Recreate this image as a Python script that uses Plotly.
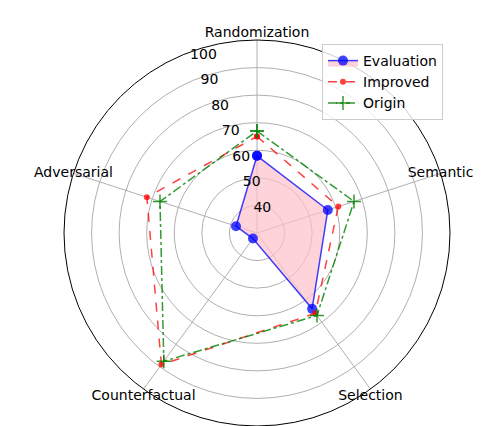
import plotly.graph_objects as go

categories = ["Randomization", "Semantic", "Selection", "Counterfactual", "Adversarial"]
evaluation = [58, 57, 64, 32.5, 38]
improved = [65, 61, 66, 89, 72]
origin = [67, 67, 67, 87.5, 67]
radial_ticks = [40, 50, 60, 70, 80, 90, 100]

R_MIN, R_MAX = 30, 100
# where each category name sits relative to its spoke end on the outer circle
label_positions = ["top center", "middle center", "bottom center", "bottom center", "middle center"]

# the page body has an 8px margin, so the figure is drawn 8px in from the window corner
W, H = 488, 418


def closed(vals):
    return list(vals) + [vals[0]]


theta = closed(categories)

fig = go.Figure()
fig.add_trace(go.Scatterpolar(
    r=closed(evaluation), theta=theta, name="Evaluation", mode="lines+markers",
    fill="toself", fillcolor="rgba(255,192,203,0.7)",
    line=dict(color="rgba(0,0,255,0.75)", width=1.5),
    marker=dict(size=10, color="rgba(0,0,255,0.75)"),
))
fig.add_trace(go.Scatterpolar(
    r=closed(improved), theta=theta, name="Improved", mode="lines+markers",
    line=dict(color="rgba(255,0,0,0.75)", width=1.5, dash="dash"),
    marker=dict(size=6, color="rgba(255,0,0,0.75)"),
))
fig.add_trace(go.Scatterpolar(
    r=closed(origin), theta=theta, name="Origin", mode="lines+markers",
    line=dict(color="rgba(0,128,0,0.8)", width=1.5, dash="dashdot"),
    marker=dict(size=10, symbol="cross-thin", color="rgba(0,128,0,0.8)",
                line=dict(width=1.5, color="rgba(0,128,0,0.8)")),
))
# category names at the ends of the spokes
fig.add_trace(go.Scatterpolar(
    r=[R_MAX] * len(categories), theta=categories, text=categories,
    mode="text", textposition=label_positions, cliponaxis=False,
    textfont=dict(size=14, color="black"), showlegend=False, hoverinfo="skip",
))

fig.update_layout(
    width=W, height=H,
    margin=dict(l=0, r=0, t=0, b=0),
    paper_bgcolor="white",
    font=dict(family="DejaVu Sans", size=14, color="black"),
    polar=dict(
        domain=dict(x=[56 / W, 442 / W], y=[0, 1 - 32 / H]),
        bgcolor="white",
        radialaxis=dict(
            range=[R_MIN, R_MAX], tickvals=radial_ticks, angle=112.5, side="clockwise",
            tickangle=112.5, showline=False, ticks="", gridcolor="#b0b0b0", gridwidth=1,
            tickfont=dict(size=14),
        ),
        angularaxis=dict(
            direction="clockwise", rotation=90, linecolor="black", linewidth=1,
            gridcolor="#b0b0b0", gridwidth=1, ticks="", showticklabels=False,
        ),
    ),
    legend=dict(
        x=435 / W, y=1 - 36 / H, xanchor="right", yanchor="top",
        bgcolor="rgba(255,255,255,0.8)", bordercolor="#cccccc", borderwidth=1,
        font=dict(size=14),
    ),
    showlegend=True,
)

fig.write_html("out.html")
